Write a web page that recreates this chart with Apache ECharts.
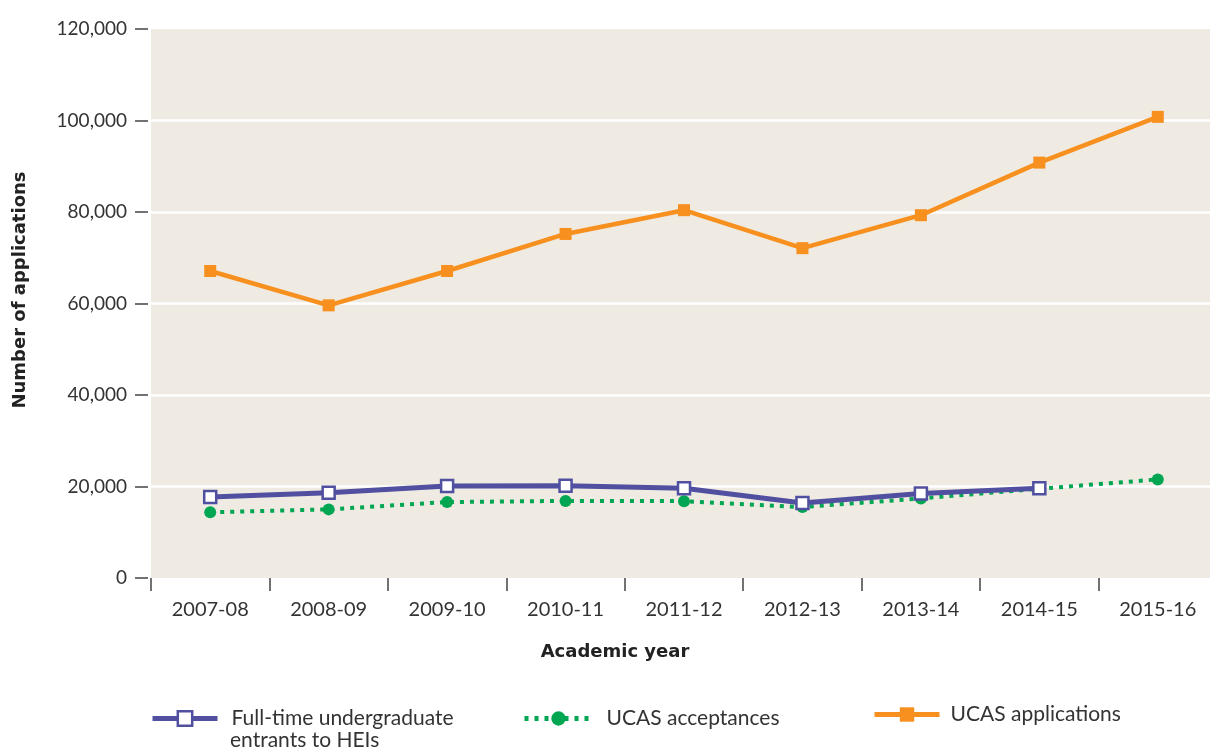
<!DOCTYPE html>
<html><head><meta charset="utf-8">
<script src="https://cdn.jsdelivr.net/npm/echarts@6/dist/echarts.min.js"></script>
<style>html,body{margin:0;padding:0;background:#fff;overflow:hidden}#c{width:1217px;height:753px}</style>
</head><body><div id="c"></div>
<script>
var categories = ['2007-08','2008-09','2009-10','2010-11','2011-12','2012-13','2013-14','2014-15','2015-16'];
var entrants = [17700, 18650, 20100, 20150, 19600, 16400, 18450, 19600, null];
var acceptances = [14350, 15000, 16600, 16850, 16800, 15500, 17400, 19500, 21550];
var applications = [67100, 59600, 67100, 75200, 80400, 72100, 79300, 90800, 100800];
var yTicks = [0, 20000, 40000, 60000, 80000, 100000, 120000];

var FONT = 'Lato, "Open Sans", sans-serif';
var BFONT = '"DejaVu Sans", Lato, sans-serif';
var TXT = '#333333';
var PURPLE = '#5150a0', GREEN = '#00a651', ORANGE = '#f7901e';

var chart = echarts.init(document.getElementById('c'), null, {renderer:'canvas'});
chart.setOption({
  backgroundColor: '#ffffff',
  textStyle: {fontFamily: FONT, color: TXT},
  grid: {left: 151, top: 29, right: 0, height: 549, show: true, backgroundColor: '#efebe2', borderWidth: 0},
  xAxis: {
    type: 'category', data: categories, boundaryGap: true, offset: 3,
    axisLine: {show: false},
    axisTick: {show: true, length: 13, alignWithLabel: false, lineStyle: {color: '#444', width: 1.5}},
    axisLabel: {fontFamily: FONT, fontSize: 20, color: TXT, margin: 19},
    splitLine: {show: false}
  },
  yAxis: {
    type: 'value', min: yTicks[0], max: yTicks[yTicks.length-1], interval: 20000, offset: 3,
    axisLine: {show: false},
    axisTick: {show: true, length: 13, lineStyle: {color: '#444', width: 1.5}},
    axisLabel: {fontFamily: FONT, fontSize: 19, color: TXT, margin: 21,
      formatter: function(v){ return v === 0 ? '0' : v.toLocaleString('en-US'); }},
    splitLine: {show: true, showMinLine: false, showMaxLine: false, lineStyle: {color: '#ffffff', width: 2.5}}
  },
  legend: [
    {data: ['Full-time undergraduate'], left: 150, top: 708, padding: 0, itemWidth: 65, itemHeight: 18,
     lineStyle: {width: 5}, itemStyle: {borderWidth: 2.5},
     textStyle: {fontFamily: FONT, fontSize: 21, color: TXT, padding: [0,0,0,9]}},
    {data: ['UCAS acceptances'], left: 522, top: 708, padding: 0, itemWidth: 68, itemHeight: 18,
     lineStyle: {width: 5},
     textStyle: {fontFamily: FONT, fontSize: 21, color: TXT, padding: [0,0,0,9]}},
    {data: ['UCAS applications'], left: 872, top: 704, padding: 0, itemWidth: 65, itemHeight: 18,
     lineStyle: {width: 5},
     textStyle: {fontFamily: FONT, fontSize: 21, color: TXT, padding: [0,0,0,6]}}
  ],
  graphic: [
    {type: 'text', left: 230, top: 730, style: {text: 'entrants to HEIs', font: '21px ' + FONT, fill: TXT}},
    {type: 'text', x: 20, y: 290, rotation: Math.PI/2, style: {text: 'Number of applications', font: 'bold 18px ' + BFONT, fill: '#222', align: 'center', verticalAlign: 'middle'}},
    {type: 'text', x: 615, y: 652, style: {text: 'Academic year', font: 'bold 18px ' + BFONT, fill: '#222', align: 'center', verticalAlign: 'middle'}}
  ],
  series: [
    {name: 'UCAS applications', type: 'line', data: applications, z: 3,
     symbol: 'rect', symbolSize: 12, lineStyle: {color: ORANGE, width: 4.5},
     itemStyle: {color: ORANGE}},
    {name: 'UCAS acceptances', type: 'line', data: acceptances, z: 4,
     symbol: 'circle', symbolSize: 12, lineStyle: {color: GREEN, width: 4, type: [4, 6]},
     itemStyle: {color: GREEN}},
    {name: 'Full-time undergraduate', type: 'line', data: entrants, z: 5,
     symbol: 'rect', symbolSize: 12, lineStyle: {color: PURPLE, width: 5},
     itemStyle: {color: '#ffffff', borderColor: PURPLE, borderWidth: 2.5}}
  ],
  animation: false
});
</script></body></html>
